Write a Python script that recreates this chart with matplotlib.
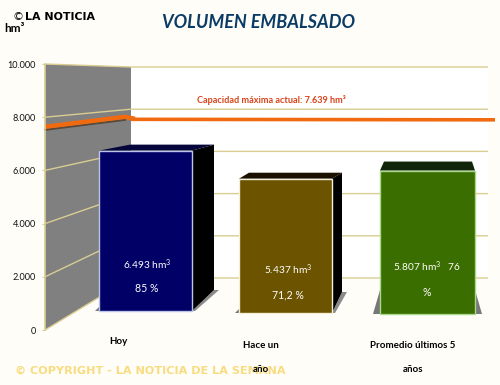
import matplotlib
matplotlib.use('Agg')
import matplotlib.pyplot as plt
from matplotlib.patches import Polygon

NARROW = ['Lato', 'DejaVu Sans']
plt.rcParams['mathtext.default'] = 'regular'

categories = ['Hoy', 'Hace un', 'Promedio últimos 5']
categories_second_row = ['', 'año', 'años']
volumes = [6493, 5437, 5807]
volume_labels = ['6.493 hm$^3$', '5.437 hm$^3$', '5.807 hm$^3$   76']
percent_labels = ['85 %', '71,2 %', '%']
capacity = 7639
capacity_label = 'Capacidad máxima actual: 7.639 hm³'
y_ticks = [0, 2000, 4000, 6000, 8000, 10000]
y_tick_labels = ['0', '2.000', '4.000', '6.000', '8.000', '10.000']

# layout, in pixels of the 500x385 picture
W, H = 500, 385
K = 0.0247          # px per hm3 on the bars
FLOOR = 313
bar_left = [99, 239, 380]
bar_width = [93, 93, 95]
bar_floor = [311, 313, 314]
bar_colors = ['#000066', '#6b5300', '#3b6e00']
bar_edges = ['#b9c6ea', '#f4efd8', '#a8d98a']
top_colors = ['#06063c', '#1a1000', '#0f2408']

BG = '#fffdf8'
GRID = '#d9cd92'
ORANGE = '#f26a0f'


def val(p):
    # picture row to bar axis value
    return (FLOOR - p) / K


def poly(points, **kw):
    ax.add_patch(Polygon([(x, val(p)) for x, p in points], closed=True, lw=0, **kw))


def wall_left(v):
    return 330 - v * 0.0266


def wall_back(v):
    return 278 - v * 0.0211


fig = plt.figure(figsize=(W / 100, H / 100), dpi=100, facecolor=BG)
ax = fig.add_axes([0, 0, 1, 1])
ax.set_xlim(0, W)
ax.set_ylim(val(H), val(0))
ax.axis('off')

# walls
poly([(131, wall_back(10000)), (488, wall_back(10000)), (488, wall_back(0)), (131, wall_back(0))],
     color='white', zorder=1)
poly([(45, wall_left(10000)), (131, wall_back(10000)), (131, wall_back(0)), (45, wall_left(0))],
     color='#808080', zorder=1)
for v in y_ticks:
    ax.plot([45, 131, 488], [val(wall_left(v)), val(wall_back(v)), val(wall_back(v))],
            color=GRID, lw=1.0, zorder=2, solid_capstyle='butt')

# capacity line
cap_l, cap_b = wall_left(capacity), wall_back(capacity)
ax.plot([45, 125], [val(cap_l + 3), val(cap_b + 3)], color='#5a4a3a', lw=1.5, zorder=3)
ax.plot([45, 125, 135], [val(cap_l), val(cap_b), val(cap_b + 2)], color=ORANGE, lw=3.2, zorder=3,
        solid_capstyle='butt')
ax.plot([131, 495], [val(cap_b + 2.5), val(cap_b + 3)], color=ORANGE, lw=2.6, zorder=3,
        solid_capstyle='butt')
ax.text(271, val(100), capacity_label, color='#d8431a', fontsize=6.6, family=NARROW, weight='bold',
        ha='center', va='center', zorder=4)

# depth faces
for i, v in enumerate(volumes):
    left, w, fl = bar_left[i], bar_width[i], bar_floor[i]
    right = left + w
    top = fl - v * K
    if i == 2:
        poly([(left - 7, fl), (left, fl), (left, fl - 24)], color='#777777', zorder=4)
        poly([(right, fl), (right + 7, fl), (right, fl - 24)], color='#777777', zorder=4)
        poly([(left, top), (left + 4, top - 9), (right - 3, top - 9), (right, top)],
             color=top_colors[i], zorder=5)
    else:
        depth = 22 if i == 0 else 10
        rise = 6
        floor_rise = 21
        poly([(right, fl), (right + depth, fl - floor_rise), (right + depth + 5, fl - floor_rise),
              (right + 3, fl)], color='#8a8a8a', zorder=4)
        poly([(left - 4, fl), (left, fl - 4), (left, fl)], color='#777777', zorder=4)
        poly([(right, top), (right + depth, top - rise), (right + depth, fl - floor_rise), (right, fl)],
             color='black', zorder=5)
        poly([(left, top), (left + 31 if i == 0 else left + 10, top - rise),
              (right + depth, top - rise), (right, top)], color=top_colors[i], zorder=5)

# front faces
ax.bar(bar_left, volumes, width=bar_width, bottom=[val(f) for f in bar_floor], align='edge',
       color=bar_colors, edgecolor=bar_edges, linewidth=1.0, zorder=6)

# labels on the bars and under them
vol_rows = [265, 270, 267]
pct_rows = [288, 295, 292]
label_x = [147, 288, 427]
cat_x = [118, 261, 413]
cat_rows = [342, 345, 345]
for i in range(3):
    ax.text(label_x[i], val(vol_rows[i]), volume_labels[i], color='white', fontsize=7.3, family=NARROW,
            ha='center', va='center', zorder=7)
    ax.text(label_x[i], val(pct_rows[i]), percent_labels[i], color='white', fontsize=7.6, family=NARROW,
            ha='center', va='center', zorder=7)
    ax.text(cat_x[i], val(cat_rows[i]), categories[i], color='black', fontsize=7, family=NARROW,
            weight='bold', ha='center', va='center')

# title and marks
ax.text(259, val(23), 'VOLUMEN EMBALSADO', color='#0b3c66', fontsize=13, family=NARROW,
        weight='bold', style='italic', ha='center', va='center')
ax.text(14, val(29), 'hm³', color='black', fontsize=8.5, family=NARROW, weight='bold',
        ha='center', va='center')
ax.text(12, val(17), '©', color='black', fontsize=8, family='DejaVu Sans', ha='left', va='center')
ax.text(25, val(17), 'LA NOTICIA', color='black', fontsize=7.9, family='DejaVu Sans', weight='bold',
        ha='left', va='center')
ax.text(15, val(371), '© COPYRIGHT - LA NOTICIA DE LA SEMANA', color='#f8dc80', fontsize=8.1,
        family='DejaVu Sans', weight='bold', ha='left', va='center', zorder=8)
for i in [1, 2]:
    ax.text(cat_x[i], val(369.5), categories_second_row[i], color='black', fontsize=7, family=NARROW,
            weight='bold', ha='center', va='center', zorder=9)

# value axis on the left wall
ax_wall = fig.add_axes([45 / W, 1 - 330 / H, 0.001, (330 - wall_left(10000)) / H])
ax_wall.patch.set_visible(False)
ax_wall.set_ylim(0, 10000)
ax_wall.set_xticks([])
ax_wall.set_yticks(y_ticks)
ax_wall.set_yticklabels(y_tick_labels, family=NARROW, fontsize=6.6, color='#111111')
ax_wall.tick_params(axis='y', length=2, color=GRID, pad=4.5)
for s in ['top', 'right', 'bottom']:
    ax_wall.spines[s].set_visible(False)
ax_wall.spines['left'].set_color(GRID)
ax_wall.spines['left'].set_linewidth(1.2)

fig.savefig('out.png', dpi=100, facecolor=BG)
